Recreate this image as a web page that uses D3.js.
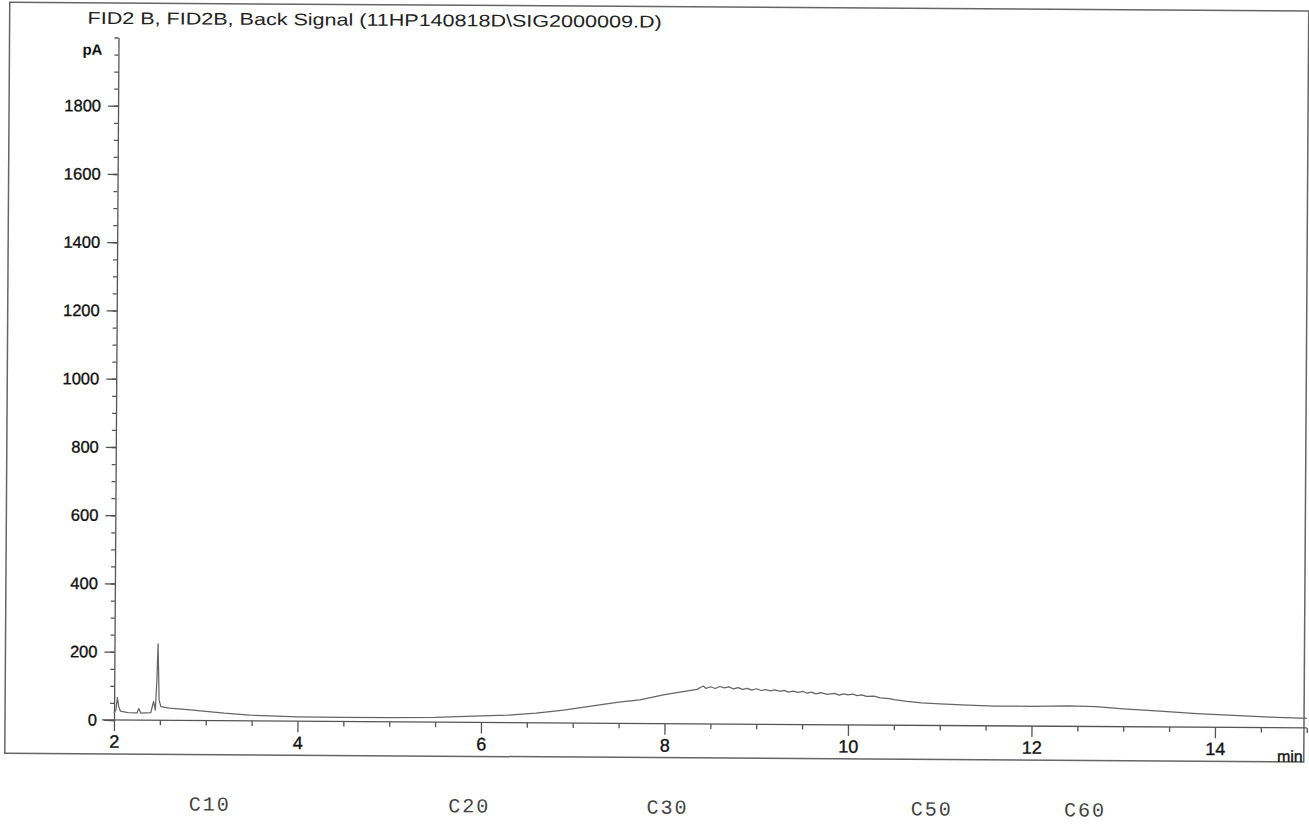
<!DOCTYPE html>
<meta charset="utf-8">
<html>
<head>
  <style>
    body { margin: 0; background: #fff; }
    svg { display: block; }
    .axis path, .axis line { stroke: #555; stroke-width: 1.3; }
    .axis text { font-family: "Liberation Sans", Arial, sans-serif; fill: #111; stroke: #111; stroke-width: 0.35; }
  </style>
</head>
<body>
<script src="https://d3js.org/d3.v7.min.js"></script>
<script>

// retention time (min) and detector signal (pA)
var times  = [2.00, 2.02, 2.035, 2.05, 2.07, 2.15, 2.25, 2.27, 2.29, 2.40, 2.43, 2.45, 2.465, 2.475, 2.49, 2.51,
              2.6, 2.8, 3.0, 3.2, 3.48, 3.7, 4.0, 4.5, 5.0, 5.5, 6.0, 6.3, 6.6, 6.9, 7.2, 7.5, 7.73, 8.0, 8.2,
              8.35, 8.40, 8.42, 8.45, 8.5, 8.55, 8.6, 8.65, 8.7, 8.75, 8.8, 8.85, 8.9, 8.95, 9.0, 9.05, 9.1,
              9.15, 9.2, 9.26, 9.3, 9.35, 9.4, 9.45, 9.51, 9.55, 9.6, 9.65, 9.7, 9.77, 9.85, 9.9, 9.95, 10.0,
              10.05, 10.1, 10.15, 10.2, 10.28, 10.35, 10.45, 10.5, 10.64, 10.8, 11.0, 11.3, 11.6, 12.0, 12.4,
              12.7, 13.0, 13.4, 13.8, 14.2, 14.6, 15.0];
var signal = [20, 30, 66, 40, 26, 22, 21, 34, 21, 22, 55, 30, 120, 224, 60, 40,
              36, 32, 27, 22, 17, 15, 13, 12, 12, 14, 19, 22, 28, 38, 50, 62, 69, 85, 94,
              101, 108, 111, 104, 109, 104, 110, 106, 109, 103, 107, 102, 105, 100, 104, 99, 102,
              98, 101, 97, 100, 95, 98, 94, 97, 92, 95, 90, 94, 89, 92, 87, 91, 88,
              90, 86, 88, 84, 85, 80, 78, 75, 70, 66, 63, 60, 58, 58, 60,
              58, 52, 46, 40, 35, 31, 28];

var yMajorTicks = [0, 200, 400, 600, 800, 1000, 1200, 1400, 1600, 1800];
var xMajorTicks = [2, 4, 6, 8, 10, 12, 14];

// carbon-number marks written under the trace
var cLabels = ["C10", "C20", "C30", "C50", "C60"];
var cTimes  = [3.05, 5.88, 8.04, 10.92, 12.59];

var titleText = "FID2 B, FID2B, Back Signal (11HP140818D\\SIG2000009.D)";

var W = 1309, H = 824;

var svg = d3.select("body").append("svg")
  .attr("width", W)
  .attr("height", H);

svg.append("rect").attr("width", W).attr("height", H).attr("fill", "#fff");

var x = d3.scaleLinear().domain([2, 15]).range([114, 1306.75]);
var y = d3.scaleLinear().domain([0, 2000]).range([720, 37.5]);

// the scanned page is slightly rotated
var g = svg.append("g")
  .attr("transform", "rotate(0.38," + x(2) + "," + y(0) + ")");

// frame round the plot
g.append("rect")
  .attr("x", 5).attr("y", 3)
  .attr("width", 1299).attr("height", 751)
  .attr("fill", "none")
  .attr("stroke", "#666")
  .attr("stroke-width", 1.5);

g.append("text")
  .attr("x", 83).attr("y", 24)
  .attr("textLength", 574)
  .attr("lengthAdjust", "spacingAndGlyphs")
  .style("font-family", "'Liberation Sans', Arial, sans-serif")
  .style("font-size", "17px")
  .style("fill", "#222")
  .text(titleText);

// y axis: minor ticks every 50, labelled majors every 200
g.append("g")
  .attr("class", "axis")
  .attr("transform", "translate(" + x(2) + ",0)")
  .call(d3.axisLeft(y).tickValues(d3.range(0, 2001, 50)).tickSize(4).tickSizeOuter(0).tickFormat(""));

g.append("g")
  .attr("class", "axis")
  .attr("transform", "translate(" + x(2) + ",0)")
  .call(d3.axisLeft(y).tickValues(yMajorTicks).tickSize(10).tickSizeOuter(0).tickPadding(7).tickFormat(d3.format("d")))
  .call(function(s) { s.select(".domain").remove(); })
  .selectAll("text").style("font-size", "16.5px");

g.append("text")
  .attr("x", 98).attr("y", 55)
  .attr("text-anchor", "end")
  .style("font-family", "'Liberation Sans', Arial, sans-serif")
  .style("font-size", "15px")
  .style("font-weight", "bold")
  .style("fill", "#111")
  .text("pA");

// x axis
var xMinor = d3.range(2, 15.01, 0.5).filter(function(t) { return xMajorTicks.indexOf(t) < 0; });

g.append("line")
  .attr("x1", x(2) - 12).attr("x2", x(15))
  .attr("y1", y(0)).attr("y2", y(0))
  .attr("stroke", "#555").attr("stroke-width", 1.3);

g.append("g")
  .attr("class", "axis")
  .attr("transform", "translate(0," + y(0) + ")")
  .call(d3.axisBottom(x).tickValues(xMinor).tickSize(5).tickSizeOuter(0).tickFormat(""))
  .call(function(s) { s.select(".domain").remove(); });

g.append("g")
  .attr("class", "axis")
  .attr("transform", "translate(0," + y(0) + ")")
  .call(d3.axisBottom(x).tickValues(xMajorTicks).tickSize(11).tickSizeOuter(0).tickPadding(4))
  .call(function(s) { s.select(".domain").remove(); })
  .selectAll("text").style("font-size", "18px");

g.append("text")
  .attr("x", 1303).attr("y", 754)
  .attr("text-anchor", "end")
  .style("font-family", "'Liberation Sans', Arial, sans-serif")
  .style("font-size", "16px")
  .style("fill", "#111")
  .style("stroke", "#111")
  .style("stroke-width", 0.35)
  .text("min");

// trace
var pts = times.map(function(t, i) { return [t, signal[i]]; });
var line = d3.line()
  .x(function(d) { return x(d[0]); })
  .y(function(d) { return y(d[1]); });

g.append("path")
  .datum(pts)
  .attr("d", line)
  .attr("fill", "none")
  .attr("stroke", "#666")
  .attr("stroke-width", 1.25)
  .attr("stroke-linejoin", "round");

// carbon labels
g.selectAll(".clab")
  .data(cLabels)
  .enter().append("text")
  .attr("class", "clab")
  .attr("x", function(d, i) { return x(cTimes[i]); })
  .attr("y", 810)
  .attr("text-anchor", "middle")
  .style("font-family", "'Liberation Mono', 'Courier New', monospace")
  .style("font-size", "20px")
  .style("letter-spacing", "2px")
  .style("fill", "#444")
  .text(function(d) { return d; });

</script>
</body>
</html>
